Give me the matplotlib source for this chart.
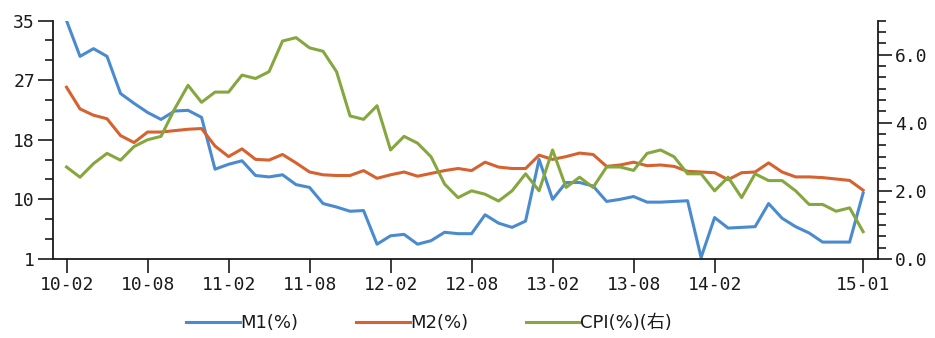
import matplotlib
matplotlib.use("Agg")
import matplotlib.pyplot as plt
import numpy as np
import pandas as pd

# 月度数据 2010-02 ~ 2015-01 (同比 %)
months = pd.date_range("2010-02", periods=60, freq="MS").strftime("%y-%m").tolist()

m1 = [35.0, 29.9, 31.0, 29.9, 24.6, 23.2, 21.9, 20.9, 22.1, 22.2, 21.2,
      13.8, 14.5, 15.0, 12.9, 12.7, 13.0, 11.6, 11.2, 8.9, 8.4, 7.8, 7.9,
      3.1, 4.3, 4.5, 3.1, 3.6, 4.8, 4.6, 4.6, 7.3, 6.1, 5.5, 6.4,
      15.2, 9.5, 11.9, 11.9, 11.4, 9.2, 9.5, 9.9, 9.1, 9.1, 9.2, 9.3,
      1.2, 6.9, 5.4, 5.5, 5.6, 8.9, 6.8, 5.6, 4.7, 3.4, 3.4, 3.4, 10.4]

m2 = [25.5, 22.4, 21.5, 21.0, 18.6, 17.6, 19.1, 19.1, 19.3, 19.5, 19.6,
      17.1, 15.6, 16.7, 15.2, 15.1, 15.9, 14.7, 13.4, 13.0, 12.9, 12.9, 13.6,
      12.5, 13.0, 13.4, 12.8, 13.2, 13.6, 13.9, 13.6, 14.8, 14.1, 13.9, 13.9,
      15.8, 15.2, 15.6, 16.1, 15.9, 14.2, 14.4, 14.8, 14.3, 14.4, 14.2, 13.5,
      13.4, 13.3, 12.3, 13.3, 13.4, 14.7, 13.4, 12.7, 12.7, 12.6, 12.4, 12.2, 10.8]

cpi = [2.7, 2.4, 2.8, 3.1, 2.9, 3.3, 3.5, 3.6, 4.4, 5.1, 4.6,
       4.9, 4.9, 5.4, 5.3, 5.5, 6.4, 6.5, 6.2, 6.1, 5.5, 4.2, 4.1,
       4.5, 3.2, 3.6, 3.4, 3.0, 2.2, 1.8, 2.0, 1.9, 1.7, 2.0, 2.5,
       2.0, 3.2, 2.1, 2.4, 2.1, 2.7, 2.7, 2.6, 3.1, 3.2, 3.0, 2.5,
       2.5, 2.0, 2.4, 1.8, 2.5, 2.3, 2.3, 2.0, 1.6, 1.6, 1.4, 1.5, 0.8]

shown_months = ["10-02", "10-08", "11-02", "11-08", "12-02", "12-08",
                "13-02", "13-08", "14-02", "15-01"]

left_ticks = [1, 9.5, 18, 26.5, 35]
left_labels = ["1", "10", "18", "27", "35"]
right_ticks = [0, 2, 4, 6]
right_labels = ["0.0", "2.0", "4.0", "6.0"]

c_m1 = "#4a8bcf"
c_m2 = "#d5622f"
c_cpi = "#86a73f"
dark = "#1a1a1a"
tick_font = "DejaVu Sans Mono"

x = np.arange(len(months))

fig = plt.figure(figsize=(9.35, 3.38), dpi=100)
ax = fig.add_axes([0.0567, 0.234, 0.8823, 0.705])
ax2 = ax.twinx()

l1, = ax.plot(x, m1, color=c_m1, lw=2.2, label="M1(%)")
l2, = ax.plot(x, m2, color=c_m2, lw=2.2, label="M2(%)")
l3, = ax2.plot(x, cpi, color=c_cpi, lw=2.2, label="CPI(%)(右)")

ax.set_xlim(-1, 60.1)
ax.set_ylim(1, 35)
ax2.set_ylim(0, 7)

ax.set_yticks(left_ticks)
ax.set_yticklabels(left_labels)
ax.set_yticks(1 + np.arange(13) * 34 / 12, minor=True)
ax2.set_yticks(right_ticks)
ax2.set_yticklabels(right_labels)
ax2.set_yticks(np.arange(22) / 3, minor=True)

ax.set_xticks([months.index(m) for m in shown_months])
ax.set_xticklabels(shown_months)

for a in (ax, ax2):
    a.spines["top"].set_visible(False)
    for s in a.spines.values():
        s.set_color(dark)
        s.set_linewidth(1.3)
ax.spines["right"].set_visible(False)
ax2.spines["left"].set_visible(False)
ax2.spines["bottom"].set_visible(False)

ax.tick_params(axis="y", which="major", length=11, width=1.2, color=dark, pad=2)
ax.tick_params(axis="y", which="minor", length=6, width=1.2, color=dark)
ax.tick_params(axis="x", length=10, width=1.2, color=dark, pad=2)
ax2.tick_params(axis="y", which="major", length=10, width=1.2, color=dark, pad=2)
ax2.tick_params(axis="y", which="minor", length=6, width=1.2, color=dark)

for lab in ax.get_xticklabels() + ax.get_yticklabels() + ax2.get_yticklabels():
    lab.set_fontfamily(tick_font)
    lab.set_fontsize(13)
    lab.set_color(dark)

leg = fig.legend(handles=[l1, l2, l3], loc="center", ncol=3,
                 bbox_to_anchor=(0.459, 0.044), frameon=False,
                 handlelength=3.0, handletextpad=0.0, columnspacing=3.2,
                 prop={"family": ["DejaVu Sans", "Noto Sans CJK SC"], "size": 13})
for t in leg.get_texts():
    t.set_color(dark)

fig.savefig("out.png", dpi=100)
